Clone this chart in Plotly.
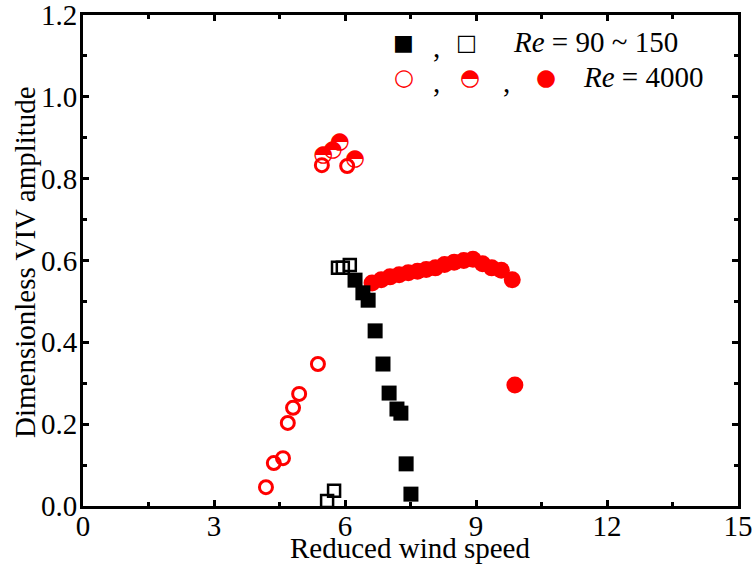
import plotly.graph_objects as go

# Re = 90~150, filled squares
sq_fill_x = [6.23, 6.41, 6.53, 6.69, 6.87, 7.01, 7.19, 7.28, 7.40, 7.51]
sq_fill_y = [0.552, 0.521, 0.503, 0.428, 0.347, 0.276, 0.237, 0.227, 0.103, 0.029]
# Re = 90~150, open squares
sq_open_x = [5.84, 5.95, 6.11, 5.59, 5.75]
sq_open_y = [0.582, 0.582, 0.589, 0.012, 0.037]
# Re = 4000, open circles
c_open_x = [4.19, 4.37, 4.58, 4.69, 4.81, 4.95, 5.38, 5.47, 6.05]
c_open_y = [0.046, 0.105, 0.117, 0.203, 0.240, 0.274, 0.347, 0.833, 0.831]
# Re = 4000, half-filled circles
c_half_x = [5.50, 5.72, 5.88, 6.23]
c_half_y = [0.858, 0.870, 0.890, 0.848]
# Re = 4000, filled circles
c_fill_x = [6.62, 6.83, 7.03, 7.24, 7.45, 7.66, 7.86, 8.07, 8.28, 8.50, 8.72, 8.93,
            9.15, 9.36, 9.58, 9.83, 9.89]
c_fill_y = [0.545, 0.553, 0.560, 0.565, 0.570, 0.574, 0.578, 0.582, 0.590, 0.596,
            0.600, 0.603, 0.592, 0.582, 0.576, 0.553, 0.296]

x_ticks = [0, 3, 6, 9, 12, 15]
y_ticks = [0.0, 0.2, 0.4, 0.6, 0.8, 1.0, 1.2]

RED = "#ff0000"
SERIF = "Liberation Serif, Times New Roman, serif"
FS = 29

fig = go.Figure()
fig.add_trace(go.Scatter(x=c_open_x, y=c_open_y, mode="markers",
                         marker=dict(symbol="circle-open", size=13, color=RED,
                                     line=dict(width=3, color=RED))))
fig.add_trace(go.Scatter(x=c_half_x, y=c_half_y, mode="text", text=["◓"] * len(c_half_x),
                         textposition="middle center",
                         textfont=dict(family="DejaVu Sans", size=23, color=RED)))
fig.add_trace(go.Scatter(x=c_fill_x, y=c_fill_y, mode="markers",
                         marker=dict(symbol="circle", size=17, color=RED,
                                     line=dict(width=0))))
fig.add_trace(go.Scatter(x=sq_open_x, y=sq_open_y, mode="markers",
                         marker=dict(symbol="square-open", size=12, color="black",
                                     line=dict(width=2.5, color="black"))))
fig.add_trace(go.Scatter(x=sq_fill_x, y=sq_fill_y, mode="markers",
                         marker=dict(symbol="square", size=15, color="black",
                                     line=dict(width=0))))

axis_common = dict(showline=True, linecolor="black", linewidth=3, mirror="allticks",
                   ticks="inside", ticklen=6, tickwidth=2.5, tickcolor="black",
                   showgrid=False, zeroline=False, automargin=False,
                   ticklabeloverflow="allow",
                   tickfont=dict(family=SERIF, size=FS, color="black"))

fig.update_xaxes(range=[0, 15], tickvals=x_ticks, ticktext=[str(v) for v in x_ticks],
                 minor=dict(ticks="inside", dtick=1.5, tick0=0, ticklen=4, tickwidth=2.5,
                            tickcolor="black", showgrid=False),
                 ticklabelstandoff=-8,
                 **axis_common)
fig.update_yaxes(range=[0, 1.2], tickvals=y_ticks, ticktext=[f"{v:.1f}" for v in y_ticks],
                 minor=dict(ticks="inside", dtick=0.1, tick0=0, ticklen=4, tickwidth=2.5,
                            tickcolor="black", showgrid=False),
                 ticklabelstandoff=-3,
                 **axis_common)

# axis titles
fig.add_annotation(x=0.4985, y=-0.0855, xref="paper", yref="paper",
                   text="Reduced wind speed", showarrow=False,
                   xanchor="center", yanchor="middle",
                   font=dict(family=SERIF, size=FS, color="black"))
fig.add_annotation(x=-0.0885, y=0.497, xref="paper", yref="paper",
                   text="Dimensionless VIV amplitude", showarrow=False, textangle=-90,
                   xanchor="center", yanchor="middle",
                   font=dict(family=SERIF, size=FS, color="black"))

# custom legend built from glyph annotations
leg = [
    (0.490, 0.945, "■", "black", 22, "DejaVu Sans"),
    (0.540, 0.935, ",", "black", FS, SERIF),
    (0.585, 0.945, "□", "black", 22, "DejaVu Sans"),
    (0.653, 0.945, "<i>Re</i> = 90 ~ 150", "black", FS, SERIF),
    (0.490, 0.874, "○", RED, 23, "DejaVu Sans"),
    (0.540, 0.864, ",", "black", FS, SERIF),
    (0.591, 0.874, "◓", RED, 23, "DejaVu Sans"),
    (0.647, 0.864, ",", "black", FS, SERIF),
    (0.707, 0.874, "●", RED, 23, "DejaVu Sans"),
    (0.760, 0.874, "<i>Re</i> = 4000", "black", FS, SERIF),
]
for x, y, t, c, s, f in leg:
    fig.add_annotation(x=x, y=y, xref="paper", yref="paper", text=t, showarrow=False,
                       xanchor="left" if "Re" in t else "center", yanchor="middle",
                       font=dict(family=f, size=s, color=c))

fig.update_layout(width=754, height=567, plot_bgcolor="white", paper_bgcolor="white",
                  showlegend=False, margin=dict(l=83, r=16, t=15, b=61))

fig.write_html("out.html", config={"displayModeBar": False},
               post_script="document.body.style.margin='0px';document.body.style.overflow='hidden';")
